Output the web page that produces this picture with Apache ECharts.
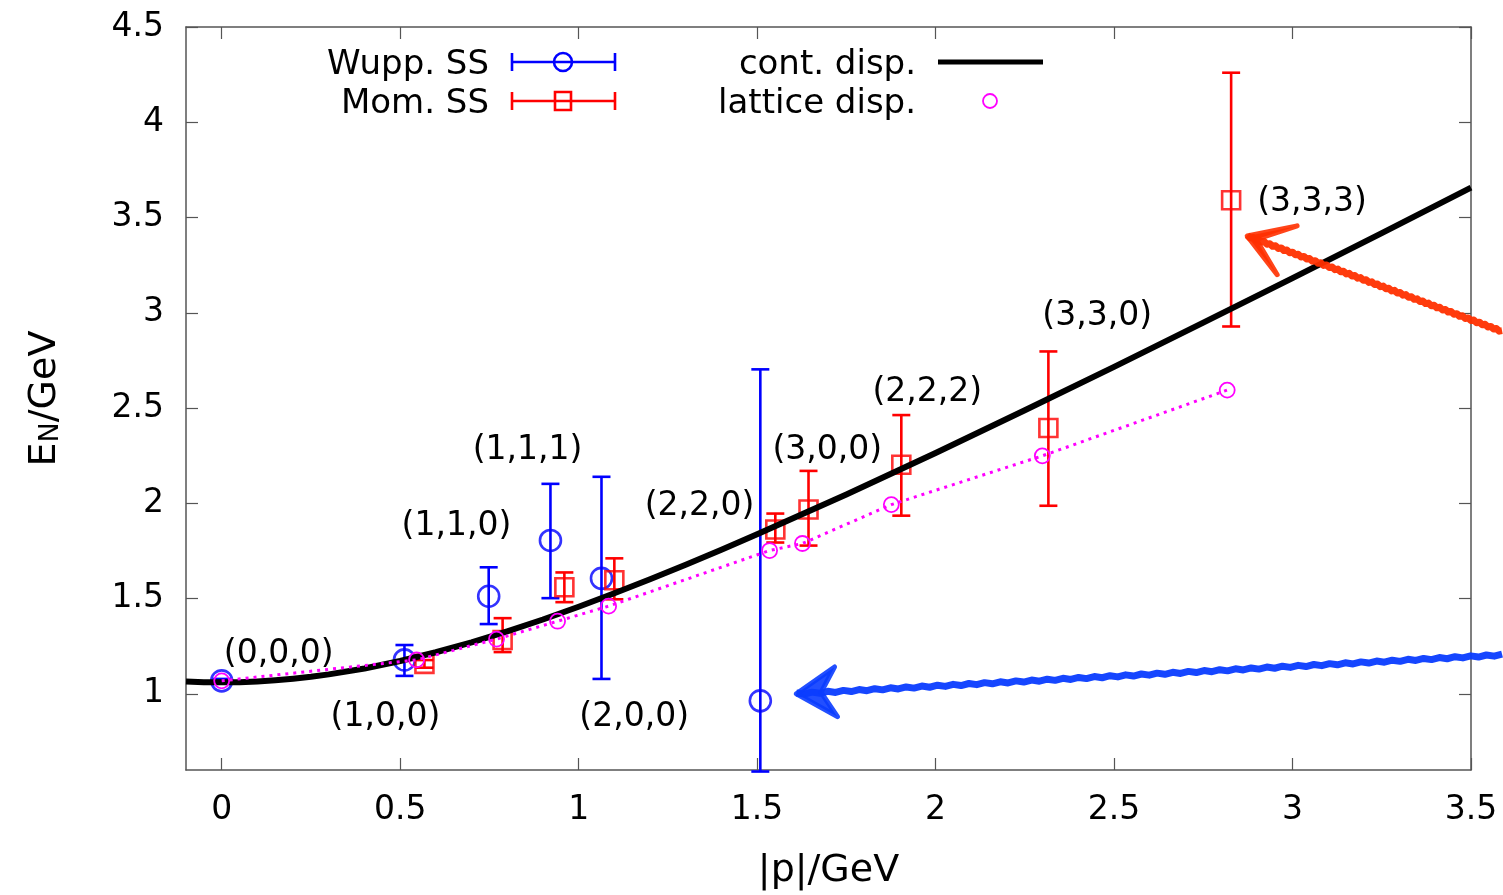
<!DOCTYPE html>
<html>
<head>
<meta charset="utf-8">
<script src="https://cdn.jsdelivr.net/npm/echarts@6/dist/echarts.min.js"></script>
<style>
  html, body { margin: 0; padding: 0; background: #ffffff; }
  #chart { width: 1503px; height: 895px; }
</style>
</head>
<body>
<div id="chart"></div>
<script>
// Nucleon energy vs momentum: two smearings, continuum and lattice dispersion

// Wuppertal smeared source: momentum, energy, error bounds
const wuppP  = [0.000, 0.512, 0.748, 0.921, 1.064, 1.509];
const wuppE  = [1.068, 1.178, 1.512, 1.805, 1.606, 0.963];
const wuppLo = [1.058, 1.094, 1.366, 1.502, 1.078, 0.592];
const wuppHi = [1.078, 1.256, 1.664, 2.102, 2.139, 2.703];

// Momentum smeared source
const momP  = [0.568, 0.787, 0.960, 1.100, 1.551, 1.644, 1.904, 2.316, 2.828];
const momE  = [1.157, 1.282, 1.559, 1.596, 1.862, 1.967, 2.202, 2.395, 3.591];
const momLo = [1.137, 1.219, 1.481, 1.496, 1.794, 1.778, 1.935, 1.987, 2.928];
const momHi = [1.177, 1.397, 1.637, 1.711, 1.946, 2.170, 2.463, 2.797, 4.260];

// Lattice dispersion relation points
const latP = [0.000, 0.546, 0.770, 0.941, 1.084, 1.535, 1.627, 1.876, 2.299, 2.817];
const latE = [1.068, 1.178, 1.287, 1.381, 1.460, 1.752, 1.789, 1.993, 2.249, 2.594];

// Continuum dispersion curve samples
const contP = [-0.10, -0.05, 0.00, 0.05, 0.10, 0.15, 0.20, 0.25, 0.30, 0.40, 0.50, 0.60, 0.70, 0.80, 0.90, 1.00,
               1.10, 1.20, 1.30, 1.40, 1.50, 1.75, 2.00, 2.25, 2.50, 2.75, 3.00, 3.25, 3.50];
const contE = [1.065, 1.061, 1.060, 1.061, 1.065, 1.071, 1.079, 1.089, 1.102, 1.133, 1.172, 1.218, 1.270, 1.328, 1.390, 1.457,
               1.528, 1.601, 1.677, 1.756, 1.837, 2.046, 2.264, 2.488, 2.716, 2.948, 3.182, 3.418, 3.657];

// Momentum-vector annotations (label anchor in data units)
const momNames = ['(0,0,0)', '(1,0,0)', '(1,1,0)', '(1,1,1)', '(2,0,0)', '(2,2,0)', '(3,0,0)', '(2,2,2)', '(3,3,0)', '(3,3,3)'];
const nameP    = [0.006, 0.305, 0.504, 0.703, 1.002, 1.185, 1.543, 1.823, 2.299, 2.901];
const nameE    = [1.230, 0.895, 1.899, 2.301, 0.895, 2.003, 2.301, 2.604, 3.001, 3.602];

// Axis ticks
const xTicks = [0, 0.5, 1, 1.5, 2, 2.5, 3, 3.5];
const yTicks = [1, 1.5, 2, 2.5, 3, 3.5, 4, 4.5];

// Highlight arrows: [tail, tip, wing A, wing B] in data units
const blueArrow = [[3.587, 1.204], [1.610, 1.000], [1.717, 1.141], [1.725, 0.880]];
const redArrow  = [[3.587, 2.902], [2.873, 3.403], [3.013, 3.456], [2.957, 3.200]];

const FONT = 'DejaVu Sans';
const BLUE = '#0000ff';
const RED = '#ff0000';
const MAGENTA = '#ff00ff';

function zip3(a, b, c) { return a.map((v, i) => [v, b[i], c[i]]); }
function zip2(a, b) { return a.map((v, i) => [v, b[i]]); }

function errorBars(color, cap) {
  return function (params, api) {
    const x = api.value(0);
    const top = api.coord([x, api.value(2)]);
    const bot = api.coord([x, api.value(1)]);
    const style = { stroke: color, lineWidth: 2.6, fill: null };
    return {
      type: 'group',
      children: [
        { type: 'line', shape: { x1: top[0], y1: top[1], x2: bot[0], y2: bot[1] }, style },
        { type: 'line', shape: { x1: top[0] - cap, y1: top[1], x2: top[0] + cap, y2: top[1] }, style },
        { type: 'line', shape: { x1: bot[0] - cap, y1: bot[1], x2: bot[0] + cap, y2: bot[1] }, style }
      ]
    };
  };
}

function nameText(params, api) {
  const pt = api.coord([api.value(0), api.value(1)]);
  return {
    type: 'text', x: pt[0], y: pt[1] + 4,
    style: {
      text: momNames[params.dataIndex], fill: '#000000',
      font: '33px "DejaVu Sans"', align: 'left', verticalAlign: 'middle'
    }
  };
}

const chart = echarts.init(document.getElementById('chart'), null, { renderer: 'canvas' });

const axisLineStyle = { color: '#555555', width: 1.5 };
const tickStyle = { color: '#555555', width: 1.2 };

function xAxisDef(pos, withLabels) {
  return {
    type: 'value', position: pos, min: -0.1, max: 3.5,
    axisLine: { show: true, onZero: false, lineStyle: axisLineStyle },
    axisTick: { show: true, inside: true, length: 12, lineStyle: tickStyle, customValues: xTicks },
    axisLabel: withLabels ? { show: true, customValues: xTicks, fontFamily: FONT, fontSize: 33, color: '#000', margin: 24 } : { show: false },
    splitLine: { show: false },
    name: withLabels ? '|p|/GeV' : '',
    nameLocation: 'middle', nameGap: 82,
    nameTextStyle: { fontFamily: FONT, fontSize: 38, color: '#000' }
  };
}
function yAxisDef(pos, withLabels) {
  return {
    type: 'value', position: pos, min: 0.6, max: 4.5,
    axisLine: { show: true, onZero: false, lineStyle: axisLineStyle },
    axisTick: { show: true, inside: true, length: 12, lineStyle: tickStyle, customValues: yTicks },
    axisLabel: withLabels ? { show: true, customValues: yTicks, fontFamily: FONT, fontSize: 33, color: '#000', margin: 22, padding: [7, 0, 0, 0] } : { show: false },
    splitLine: { show: false },
    name: withLabels ? 'E{s|N}/GeV' : '',
    nameLocation: 'middle', nameGap: 122, nameRotate: 90,
    nameTextStyle: {
      fontFamily: FONT, fontSize: 38, color: '#000',
      rich: { s: { fontFamily: FONT, fontSize: 27, color: '#000', verticalAlign: 'bottom' } }
    }
  };
}

const option = {
  backgroundColor: '#ffffff',
  animation: false,
  grid: { left: 186, right: 32, top: 27, bottom: 122 },
  xAxis: [xAxisDef('bottom', true), xAxisDef('top', false)],
  yAxis: [yAxisDef('left', true), yAxisDef('right', false)],
  series: [
    {
      name: 'Wupp. SS bars', type: 'custom', clip: false, z: 2,
      renderItem: errorBars(BLUE, 9),
      encode: { x: 0, y: [1, 2] },
      data: zip3(wuppP, wuppLo, wuppHi)
    },
    {
      name: 'Wupp. SS', type: 'scatter', z: 3,
      symbol: 'circle', symbolSize: 21,
      itemStyle: { color: 'rgba(0,0,0,0)', borderColor: BLUE, borderWidth: 2.6 },
      data: zip2(wuppP, wuppE)
    },
    {
      name: 'Mom. SS bars', type: 'custom', clip: false, z: 4,
      renderItem: errorBars(RED, 9),
      encode: { x: 0, y: [1, 2] },
      data: zip3(momP, momLo, momHi)
    },
    {
      name: 'Mom. SS', type: 'scatter', z: 5,
      symbol: 'rect', symbolSize: 18,
      itemStyle: { color: 'rgba(0,0,0,0)', borderColor: RED, borderWidth: 2.6 },
      data: zip2(momP, momE)
    },
    {
      name: 'cont. disp.', type: 'line', z: 6, smooth: false,
      showSymbol: false, symbol: 'none',
      lineStyle: { color: '#000000', width: 6, join: 'round' },
      data: zip2(contP, contE)
    },
    {
      name: 'lattice disp.', type: 'line', z: 7,
      symbol: 'circle', symbolSize: 15, showSymbol: true,
      lineStyle: { color: MAGENTA, width: 3, type: [3, 5] },
      itemStyle: { color: 'rgba(0,0,0,0)', borderColor: MAGENTA, borderWidth: 1.8 },
      data: zip2(latP, latE)
    },
    {
      name: 'labels', type: 'custom', z: 8, clip: false, silent: true,
      renderItem: nameText,
      encode: { x: 0, y: 1 },
      data: zip2(nameP, nameE)
    }
  ]
};
chart.setOption(option);

// Legend, drawn with texts and sample glyphs
function legendGraphics() {
  const els = [];
  const txt = (x, y, s) => ({
    type: 'text', x, y: y + 3, z: 20,
    style: { text: s, fontFamily: FONT, fontSize: 34, fill: '#000', align: 'right', verticalAlign: 'middle' }
  });
  const errIcon = (y, color) => [
    { type: 'line', z: 20, shape: { x1: 512, y1: y, x2: 615, y2: y }, style: { stroke: color, lineWidth: 2.6 } },
    { type: 'line', z: 20, shape: { x1: 512, y1: y - 9, x2: 512, y2: y + 9 }, style: { stroke: color, lineWidth: 2.6 } },
    { type: 'line', z: 20, shape: { x1: 615, y1: y - 9, x2: 615, y2: y + 9 }, style: { stroke: color, lineWidth: 2.6 } }
  ];
  els.push(txt(489, 62, 'Wupp. SS'));
  els.push(...errIcon(62, BLUE));
  els.push({ type: 'circle', z: 21, shape: { cx: 563, cy: 62, r: 9 }, style: { stroke: BLUE, lineWidth: 2.6, fill: null } });
  els.push(txt(489, 101, 'Mom. SS'));
  els.push(...errIcon(101, RED));
  els.push({ type: 'rect', z: 21, shape: { x: 555, y: 92, width: 16, height: 18 }, style: { stroke: RED, lineWidth: 2.6, fill: null } });
  els.push(txt(916, 62, 'cont. disp.'));
  els.push({ type: 'line', z: 20, shape: { x1: 938, y1: 62, x2: 1043, y2: 62 }, style: { stroke: '#000', lineWidth: 5 } });
  els.push(txt(916, 101, 'lattice disp.'));
  els.push({ type: 'circle', z: 21, shape: { cx: 990, cy: 101, r: 7 }, style: { stroke: MAGENTA, lineWidth: 1.8, fill: null } });
  return els;
}

// Hand-drawn style arrows pointing at the highlighted points
function arrowGraphics(def, color) {
  const px = def.map((d) => chart.convertToPixel({ xAxisIndex: 0, yAxisIndex: 0 }, d));
  const [tail, tip, wa, wb] = px;
  const pts = [];
  const n = 90;
  for (let i = 0; i <= n; i++) {
    const t = i / n;
    const x = tip[0] + (tail[0] - tip[0]) * t;
    const y = tip[1] + (tail[1] - tip[1]) * t + (i % 2 ? 0.8 : -0.8);
    pts.push([x, y]);
  }
  const notch = [tip[0] + (tail[0] - tip[0]) * 0.035, tip[1] + (tail[1] - tip[1]) * 0.035];
  return [
    { type: 'polyline', z: 30, shape: { points: pts }, style: { stroke: color, lineWidth: 7, lineJoin: 'round', fill: null, opacity: 0.95 } },
    { type: 'polygon', z: 30, shape: { points: [tip, wa, notch, wb] }, style: { fill: color, stroke: color, lineWidth: 5, lineJoin: 'round', opacity: 0.9 } }
  ];
}

chart.setOption({
  graphic: [
    ...legendGraphics(),
    ...arrowGraphics(blueArrow, '#0a3cff'),
    ...arrowGraphics(redArrow, '#ff3000')
  ]
});
</script>
</body>
</html>
